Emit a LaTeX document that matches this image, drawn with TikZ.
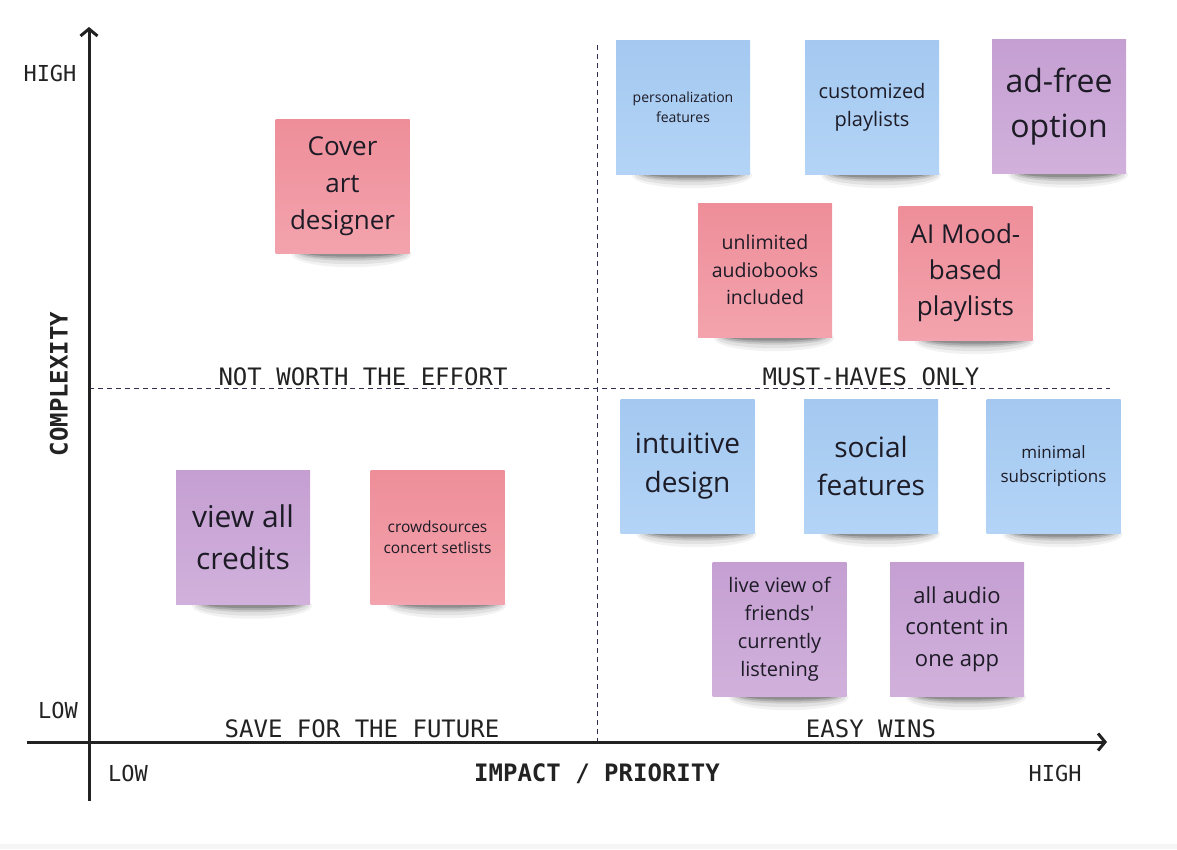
\documentclass[tikz,border=0pt]{standalone}
\usepackage{fontspec}
\setmainfont{Open Sans}
\newfontfamily\monof{DejaVu Sans Mono}
\usetikzlibrary{arrows.meta,backgrounds}
\definecolor{blueA}{HTML}{A4C8F0}
\definecolor{blueB}{HTML}{B3D4F6}
\definecolor{pinkA}{HTML}{EE8E99}
\definecolor{pinkB}{HTML}{F3A3AD}
\definecolor{purpA}{HTML}{C59FD2}
\definecolor{purpB}{HTML}{D1B1DC}
\definecolor{ink}{HTML}{1D1B26}
\definecolor{axisc}{HTML}{222222}
\definecolor{dashc}{HTML}{2E2E52}
\newcommand\fsz[2]{\fontsize{#1pt}{#2pt}\selectfont}
\tikzset{
  note/.style={minimum width=134pt, minimum height=134pt, inner sep=0pt,
    align=center, text=ink},
  bluenote/.style={note, top color=blueA, bottom color=blueB},
  pinknote/.style={note, top color=pinkA, bottom color=pinkB},
  purpnote/.style={note, top color=purpA, bottom color=purpB},
  axisline/.style={axisc, line width=3pt},
  divider/.style={dashc, line width=0.9pt, dash pattern=on 5pt off 4pt},
  quadlabel/.style={anchor=base, font=\monof\fsz{24}{28}, text=axisc, inner sep=0pt},
  axlabel/.style={anchor=base, font=\monof\fsz{22}{26}, text=axisc, inner sep=0pt},
  axtitle/.style={font=\monof\bfseries\fsz{24}{28}, text=axisc, inner sep=0pt},
}
\begin{document}
\begin{tikzpicture}[x=1pt,y=-1pt]
\useasboundingbox (0,0) rectangle (1177,849);
\fill[black!4] (0,844) rectangle (1177,849);

% dividers
\coordinate (vt) at (597,45);
\coordinate (vb) at (597,742);
\coordinate (hl) at (89,388);
\coordinate (hr) at (1110,388);
\draw[divider] (vt) -- (vb);
\draw[divider] (hl) -- (hr);

% axes
\coordinate (yb) at (89,801);
\coordinate (yt) at (89,27);
\coordinate (xl) at (27,742);
\coordinate (xr) at (1107,742);
\draw[axisline, -{Straight Barb[length=7pt,width=17pt,line width=3pt]}] (yb) -- (yt);
\draw[axisline, -{Straight Barb[length=7pt,width=17pt,line width=3pt]}] (xl) -- (xr);

% axis labels
\node[axlabel] (yhigh) at (50,81) {HIGH};
\node[axlabel] (ylow) at (58,718) {LOW};
\node[axlabel] (xlow) at (128,781) {LOW};
\node[axlabel] (xhigh) at (1055,781) {HIGH};
\node[axtitle, anchor=base] (xtitle) at (597,781) {IMPACT / PRIORITY};
\node[axtitle, rotate=90] (ytitle) at (59,384) {COMPLEXITY};

% quadrant labels
\node[quadlabel] (q1) at (363,385) {NOT WORTH THE EFFORT};
\node[quadlabel] (q2) at (871,385) {MUST-HAVES ONLY};
\node[quadlabel] (q3) at (362,737) {SAVE FOR THE FUTURE};
\node[quadlabel] (q4) at (871,737) {EASY WINS};

% sticky notes
\node[pinknote, font=\fsz{26}{37}] (cover) at (342.5,186) {Cover\\art\\designer};
\node[bluenote, font=\fsz{14}{20}] (pers) at (683,107) {personalization\\features};
\node[bluenote, font=\fsz{20}{28}] (cust) at (872,107) {customized\\playlists};
\node[purpnote, font=\fsz{32}{45}] (adfree) at (1059,106.5) {\vphantom{pl}ad-free\\option};
\node[pinknote, font=\fsz{19.5}{27.5}] (unlim) at (765,270) {unlimited\\audiobooks\\included};
\node[pinknote, font=\fsz{26}{36}] (aimood) at (965.5,273) {AI Mood-\\based\\playlists};
\node[bluenote, font=\fsz{28}{39}] (intuit) at (687.5,466) {intuitive\\design};
\node[bluenote, font=\fsz{28}{38}] (social) at (871,466) {social\\features};
\node[bluenote, font=\fsz{17}{24}] (minimal) at (1053.5,466) {minimal\\subscriptions};
\node[purpnote, font=\fsz{30}{42}] (viewall) at (243,537.5) {view all\\credits};
\node[pinknote, font=\fsz{15.5}{21}] (crowd) at (437.5,537) {crowdsources\\concert setlists};
\node[purpnote, font=\fsz{20}{28}] (live) at (779.5,629) {live view of\\friends\textquotesingle\\currently\\listening};
\node[purpnote, font=\fsz{22}{31.5}] (allaudio) at (957,629) {all audio\\content in\\one app};

% shadows
\begin{scope}[on background layer]
\foreach \n in {cover,pers,cust,adfree,unlim,aimood,intuit,social,minimal,viewall,crowd,live,allaudio}{
  \fill[black, opacity=0.05] ([xshift=9pt,yshift=-1pt]\n.south) ellipse [x radius=60pt, y radius=13pt];
  \fill[black, opacity=0.07] ([xshift=9pt,yshift=-1pt]\n.south) ellipse [x radius=57pt, y radius=10pt];
  \fill[black, opacity=0.10] ([xshift=9pt,yshift=0pt]\n.south) ellipse [x radius=54pt, y radius=7.5pt];
  \fill[black, opacity=0.14] ([xshift=9pt,yshift=0pt]\n.south) ellipse [x radius=50pt, y radius=5.5pt];
  \fill[black, opacity=0.18] ([xshift=9pt,yshift=0pt]\n.south) ellipse [x radius=45pt, y radius=3.5pt];
}
\end{scope}
\end{tikzpicture}
\end{document}
